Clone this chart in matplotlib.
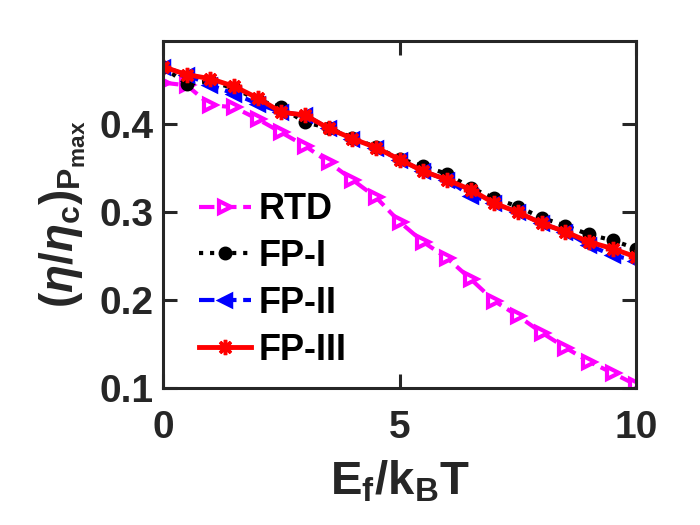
import matplotlib
matplotlib.use("Agg")
import matplotlib.pyplot as plt

x_vals = [0, 0.5, 1, 1.5, 2, 2.5, 3, 3.5, 4, 4.5, 5, 5.5, 6, 6.5, 7, 7.5, 8, 8.5, 9, 9.5, 10]
rtd = [0.4475, 0.4445, 0.422, 0.4195, 0.406, 0.3908, 0.3755, 0.357, 0.337, 0.317, 0.289,
       0.266, 0.248, 0.224, 0.199, 0.182, 0.163, 0.146, 0.130, 0.117, 0.1034]
fp1 = [0.465, 0.4463, 0.449, 0.441, 0.428, 0.4195, 0.4023, 0.396, 0.385, 0.374, 0.361,
       0.3525, 0.3437, 0.328, 0.316, 0.3065, 0.2938, 0.2847, 0.2747, 0.268, 0.2586]
fp2 = [0.4655, 0.4567, 0.4445, 0.435, 0.4234, 0.4138, 0.4107, 0.3954, 0.3839, 0.3736, 0.360,
       0.3467, 0.337, 0.319, 0.3103, 0.300, 0.2874, 0.2778, 0.2625, 0.251, 0.245]
fp3 = [0.4655, 0.4567, 0.452, 0.4433, 0.430, 0.4138, 0.4107, 0.3954, 0.3839, 0.3736, 0.360,
       0.3467, 0.337, 0.3257, 0.3103, 0.300, 0.2874, 0.2778, 0.2663, 0.2586, 0.249]
labels = ["RTD", "FP-I", "FP-II", "FP-III"]
x_ticks = [0, 5, 10]
y_ticks = [0.1, 0.2, 0.3, 0.4]

plt.rcParams['font.family'] = ['Liberation Sans', 'DejaVu Sans']
plt.rcParams['font.weight'] = 'bold'
plt.rcParams['mathtext.fontset'] = 'custom'
plt.rcParams['mathtext.rm'] = 'Liberation Sans:bold'
plt.rcParams['mathtext.bf'] = 'Liberation Sans:bold'
plt.rcParams['mathtext.it'] = 'Liberation Sans:italic'

fig = plt.figure(figsize=(7, 5.25), dpi=100)
ax = fig.add_axes([0.233, 0.261, 0.676, 0.661])

ax.plot(x_vals, rtd, linestyle='--', color='#FF00FF', lw=3, marker='>', ms=9,
        mfc='white', mec='#FF00FF', mew=3, label=labels[0])
ax.plot(x_vals, fp1, linestyle=':', color='black', lw=3, marker='o', ms=7.5,
        mfc='black', mec='black', mew=2.5, label=labels[1])
ax.plot(x_vals, fp2, linestyle='--', color='#0000FF', lw=3, marker='<', ms=8.5,
        mfc='#0000FF', mec='#0000FF', mew=2.5, label=labels[2])
ax.plot(x_vals, fp3, linestyle='-', color='#FF0000', lw=3.5, marker=(8, 2, 0), ms=11,
        mfc='#FF0000', mec='#FF0000', mew=2.5, label=labels[3])

ax.set_xlim(0, 10)
ax.set_ylim(0.1, 0.495)
ax.set_xticks(x_ticks)
ax.set_yticks(y_ticks)
ax.set_xticklabels([str(v) for v in x_ticks])
ax.set_yticklabels([f"{v:.1f}" for v in y_ticks])

for s in ax.spines.values():
    s.set_linewidth(2.2)
    s.set_color('#262626')
ax.tick_params(direction='in', length=10, width=2.2, color='#262626',
               labelsize=28, labelcolor='#262626', top=True, right=True)
ax.tick_params(axis='x', pad=16)
ax.tick_params(axis='y', pad=7)

ax.set_xlabel(r'$\mathrm{E_f/k_BT}$', fontsize=34, color='#262626', labelpad=9)
ax.set_ylabel(r'$(\eta/\eta_\mathrm{c})_{\mathrm{P}_{\mathrm{max}}}$', fontsize=33,
              color='#262626', labelpad=8)

leg = ax.legend(loc='center left', bbox_to_anchor=(0.076, 0.311), frameon=False,
                fontsize=26, handlelength=1.45, handletextpad=0.2, labelspacing=0.33,
                borderpad=0, borderaxespad=0)
for t in leg.get_texts():
    t.set_fontweight('bold')

fig.savefig('out.png', dpi=100)
